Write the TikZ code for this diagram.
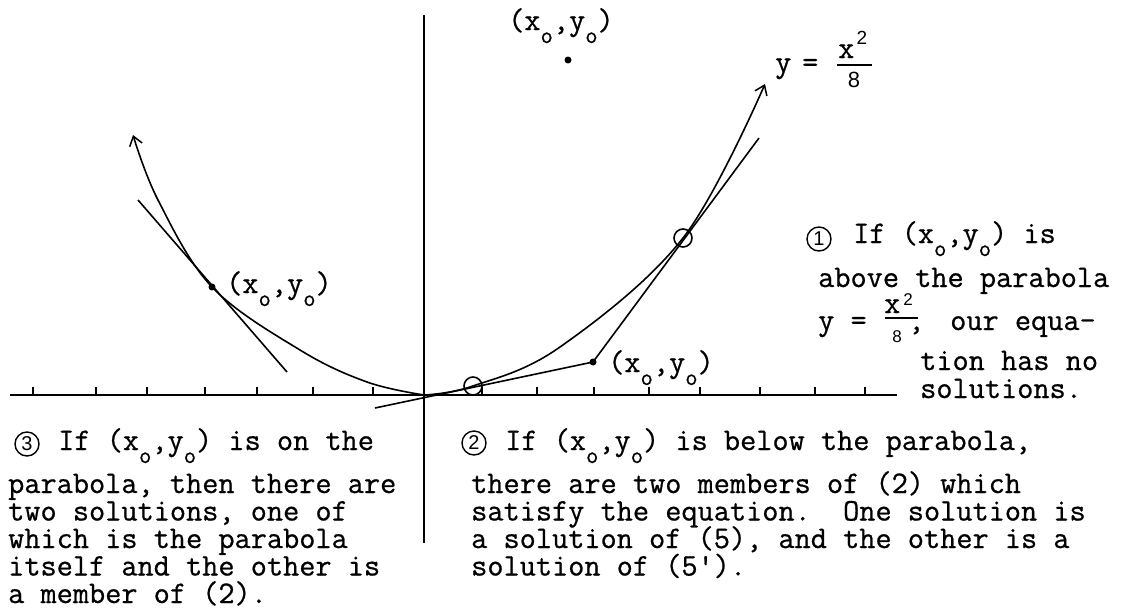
\documentclass[tikz,border=0pt]{standalone}
\usepackage{fontspec}
\setmonofont{Latin Modern Mono}[FakeBold=0.7]
\newfontfamily\sfd{Liberation Sans}
\usetikzlibrary{arrows.meta}
\newcommand\lo{\raisebox{-13pt}{\fontsize{24}{24}\selectfont o}}
\newcommand\xoyo{(x\lo,y\lo)}
\begin{document}
\begin{tikzpicture}[x=1pt,y=-1pt,
  txt/.style={font=\ttfamily\fontsize{31.4}{31.4}\selectfont, inner sep=0pt, anchor=base west, text height=17pt, text depth=4pt},
  dig/.style={font=\sfd\fontsize{#1}{#1}\selectfont, inner sep=0pt},
  ln/.style={line width=1.6pt},
  tick/.style={line width=1.3pt},
  dot/.style={circle,fill,inner sep=0pt,minimum size=7pt},
  ring/.style={circle,draw,line width=1.6pt,inner sep=0pt,minimum size=18pt},
  cnum/.style={circle,draw,line width=1.4pt,inner sep=0pt,minimum size=24pt,font=\sfd\fontsize{20}{20}\selectfont},
  tip/.style={-{Straight Barb[length=9pt,width=13pt,line width=1.5pt]}}
]
\useasboundingbox (0,0) rectangle (1121,608);

% axes
\coordinate (xl) at (10,395); \coordinate (xr) at (897,395);
\coordinate (yt) at (424,15);  \coordinate (yb) at (424,543);
\draw[ln] (xl) -- (xr);
\draw[ln] (yt) -- (yb);
\foreach \t in {33,96,147,205,257,313,373,482,537,594,649,700,760,815,865}
  \draw[tick] (\t,395) -- (\t,387);

% parabola
\draw[ln,tip] plot[smooth,tension=0.6] coordinates
  {(424,395) (473,386) (560,347) (683,238) (765,84)};
\draw[ln,tip] plot[smooth,tension=0.6] coordinates
  {(424,395) (367,382) (300,350) (212,287) (158,200) (133,135)};

% marked points
\node[ring] (c1) at (473,386) {};
\node[ring] (c2) at (683,238) {};
\node[dot] (pl) at (212,287) {};
\node[dot] (pt) at (568,60) {};
\node[dot] (pb) at (593,362) {};

% tangent lines
\coordinate (tl1) at (138,200); \coordinate (tl2) at (287,372);
\draw[ln] (tl1) -- (tl2);
\coordinate (tr1) at (375,408); \coordinate (tr2) at (759,138);
\draw[ln] (tr1) -- (pb.center) -- (tr2);

% point labels
\node[txt] (lt) at (508,30) {\xoyo};
\node[txt] (ll) at (226,293) {\xoyo};
\node[txt] (lb) at (608,372) {\xoyo};

% y = x^2/8 (top)
\node[txt] (ty) at (775,72) {y};
\node[txt] (teq) at (802,72) {=};
\node[txt,text height=12pt,text depth=0pt] (tx) at (838,58) {x};
\node[dig=19] (t2) at (862,38) {2};
\coordinate (tb1) at (837,65); \coordinate (tb2) at (872,65);
\draw[line width=1.4pt] (tb1) -- (tb2);
\node[dig=22] (t8) at (854,80) {8};

% block 1
\node[cnum] (n1) at (819,239) {1};
\node[txt] (a1) at (853,243) {If \xoyo\ is};
\node[txt] (a2) at (818,287) {above the parabola};
\node[txt] (a3) at (818,330) {y =};
\node[txt,text height=12pt,text depth=0pt] (a3x) at (884,313) {x};
\node[dig=17] (a32) at (908,300) {2};
\coordinate (ab1) at (885,318); \coordinate (ab2) at (918,318);
\draw[line width=1.4pt] (ab1) -- (ab2);
\node[dig=17] (a38) at (897,337) {8};
\node[txt] (a3c) at (908,330) {,};
\node[txt] (a3r) at (950,330) {our equa-};
\node[txt] (a4) at (920,370) {tion has no};
\node[txt] (a5) at (920,398) {solutions.};

% block 2
\node[cnum] (n2) at (474,443) {2};
\node[txt] (b1) at (505,450) {If \xoyo\ is below the parabola,};
\node[txt] (b2) at (471,493) {there are two members of (2) which};
\node[txt] (b3) at (471,520.5) {satisfy the equation.\ \ One solution is};
\node[txt] (b4) at (471,548) {a solution of (5), and the other is a};
\node[txt] (b5) at (471,575.5) {solution of (5').};

% block 3
\node[cnum] (n3) at (27,444) {3};
\node[txt] (c1t) at (58,450) {If \xoyo\ is on the};
\node[txt] (c2t) at (8,493) {parabola, then there are};
\node[txt] (c3t) at (8,520.5) {two solutions, one of};
\node[txt] (c4t) at (8,548) {which is the parabola};
\node[txt] (c5t) at (8,575.5) {itself and the other is};
\node[txt] (c6t) at (8,603) {a member of (2).};
\end{tikzpicture}
\end{document}
